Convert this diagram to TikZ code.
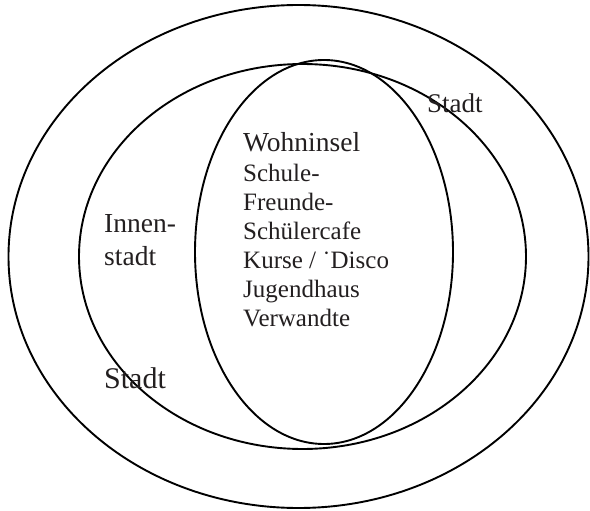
\documentclass[tikz,border=0pt]{standalone}
\usepackage{fontspec}
\setmainfont{Liberation Serif}
\usetikzlibrary{shapes.geometric}
\definecolor{ink}{HTML}{231F20}
\begin{document}
\begin{tikzpicture}[x=1pt,y=-1pt,
  ring/.style={draw=black,line width=1.9pt,ellipse,inner sep=0pt,outer sep=0pt},
  lbl/.style={anchor=base west,inner sep=0pt,text=ink},
  big/.style={lbl,font=\fontsize{27.5}{29}\selectfont},
  small/.style={lbl,font=\fontsize{25}{29}\selectfont}]
\useasboundingbox (0,0) rectangle (590,511);
\node[ring,minimum width=580,minimum height=503] (outer) at (298.5,256.5) {};
\node[ring,minimum width=447,minimum height=385] (middle) at (302.5,256.5) {};
\node[ring,minimum width=258,minimum height=384] (inner) at (324,252) {};
\node[big] (w) at (243,152) {Wohninsel};
\node[small] (l1) at (243,182) {Schule-};
\node[small] (l2) at (243,211) {Freunde-};
\node[small] (l3) at (243,240) {Schülercafe};
\node[small] (l4) at (243,268) {Kurse / ˙Disco};
\node[small] (l5) at (243,297) {Jugendhaus};
\node[small] (l6) at (243,326) {Verwandte};
\node[big] (i1) at (104,233) {Innen-};
\node[big] (i2) at (104,265) {stadt};
\node[lbl,font=\fontsize{27}{29}\selectfont] (s1) at (427,113) {Stadt};
\node[lbl,font=\fontsize{30}{32}\selectfont] (s2) at (104,388) {Stadt};
\end{tikzpicture}
\end{document}
